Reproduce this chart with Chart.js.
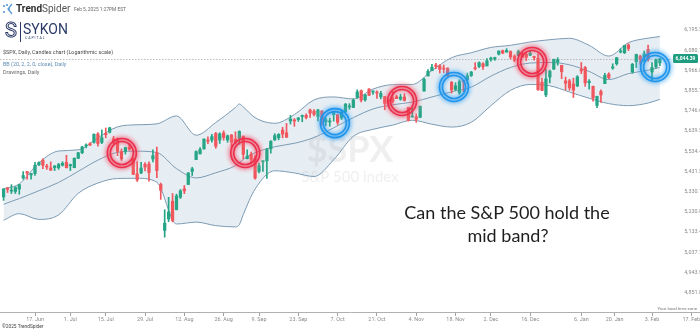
<!DOCTYPE html>
<html>
<head>
<meta charset="utf-8">
<title>$SPX Daily</title>
<script src="https://cdn.jsdelivr.net/npm/chart.js@4.4.1/dist/chart.umd.min.js"></script>
<style>
  html, body { margin: 0; padding: 0; background: #fff; }
  #wrap { width: 700px; height: 331px; }
</style>
</head>
<body>
<div id="wrap"><canvas id="spxChart" width="700" height="331"></canvas></div>
<script>
// S&P 500 daily candles, 5 Jun 2024 .. 5 Feb 2025 (x = trading day index)
const opens = [5314,5357,5343,5341,5353,5409,5441,5424,5431,5476,5499,5467,5459,5461,5460,5473,5488,5471,5461,5508,
  5537,5572,5584,5591,5635,5590,5638,5644,5610,5608,5543,5545,5566,5505,5429,5434,5477,5479,5505,5537,
  5376,5151,5206,5293,5252,5313,5354,5376,5442,5502,5531,5557,5603,5603,5637,5603,5640,5603,5629,5607,
  5612,5623,5507,5529,5507,5442,5490,5496,5557,5603,5615,5655,5641,5703,5709,5711,5727,5733,5762,5755,
  5727,5757,5698,5698,5737,5737,5719,5752,5778,5775,5829,5866,5816,5875,5859,5857,5833,5834,5817,5827,
  5833,5820,5832,5775,5724,5725,5722,5864,5947,5976,6008,6003,5986,5990,5913,5873,5853,5918,5925,5949,
  5992,6000,6015,6003,6040,6042,6069,6089,6081,6084,6058,6061,6074,6068,6063,6053,6047,5913,5843,5941,
  5985,6024,6006,5920,5920,5903,5892,5983,5994,5910,5890,5786,5862,5905,5957,5991,6015,6081,6077,6121,
  5970,6026,6058,6051,6096,5969,5998,6020];
const highs = [5354,5362,5375,5365,5376,5441,5441,5432,5488,5490,5506,5478,5490,5472,5483,5491,5524,5479,5510,5539,
  5570,5583,5590,5635,5642,5656,5666,5670,5622,5614,5557,5566,5585,5508,5491,5488,5487,5490,5552,5566,
  5383,5251,5312,5331,5328,5351,5371,5436,5463,5547,5564,5609,5620,5633,5643,5641,5651,5629,5632,5646,
  5651,5624,5552,5540,5523,5484,5497,5560,5600,5636,5636,5670,5690,5733,5716,5722,5735,5741,5767,5764,
  5765,5757,5719,5718,5753,5739,5757,5797,5796,5822,5871,5870,5846,5878,5866,5866,5863,5835,5817,5862,
  5842,5847,5850,5775,5772,5741,5783,5936,5983,6012,6018,6010,6008,5993,5916,5910,5926,5920,5963,5972,
  6021,6026,6021,6044,6053,6052,6087,6092,6100,6088,6065,6092,6080,6078,6085,6058,6070,5936,5982,5979,
  6041,6049,6007,5941,5929,5935,5949,6022,6000,5927,5891,5836,5871,5961,5965,6015,6051,6100,6119,6128,
  6017,6069,6063,6087,6121,6022,6042,6045];
const lows = [5297,5336,5331,5331,5327,5402,5403,5403,5421,5471,5456,5452,5447,5446,5452,5469,5460,5446,5460,5508,
  5532,5562,5574,5587,5571,5584,5614,5640,5584,5522,5497,5530,5550,5426,5391,5430,5444,5393,5490,5410,
  5302,5119,5193,5192,5250,5306,5330,5376,5421,5502,5531,5555,5584,5592,5560,5585,5602,5591,5561,5583,
  5581,5506,5505,5479,5403,5434,5442,5406,5535,5601,5604,5614,5615,5687,5675,5701,5699,5714,5722,5730,
  5703,5681,5678,5675,5702,5684,5711,5750,5765,5775,5825,5805,5809,5840,5846,5824,5822,5763,5784,5799,
  5823,5814,5810,5703,5723,5696,5722,5864,5947,5976,5987,5963,5966,5944,5853,5866,5846,5861,5905,5944,
  5980,5993,5984,6003,6029,6034,6064,6071,6079,6041,6026,6058,6051,6033,6060,6035,5867,5866,5833,5908,
  5983,6007,5932,5870,5868,5829,5888,5960,5890,5874,5809,5774,5803,5905,5932,5984,6007,6076,6072,6089,
  5962,5994,6012,6027,6030,5923,5990,6004];
const closes = [5354,5352,5347,5361,5375,5421,5433,5431,5473,5487,5473,5464,5448,5469,5477,5483,5460,5475,5509,5537,
  5567,5573,5577,5633,5585,5615,5631,5667,5588,5544,5505,5564,5555,5427,5399,5459,5464,5436,5522,5446,
  5347,5186,5240,5199,5319,5344,5344,5434,5455,5543,5554,5608,5597,5621,5571,5635,5616,5625,5592,5592,
  5648,5529,5520,5503,5408,5471,5496,5554,5596,5626,5633,5634,5618,5714,5703,5719,5732,5722,5745,5738,
  5762,5709,5709,5700,5751,5696,5751,5793,5780,5815,5859,5815,5843,5841,5864,5853,5851,5797,5809,5808,
  5823,5832,5813,5705,5728,5712,5782,5929,5973,5996,6001,5984,5985,5949,5870,5893,5917,5917,5948,5969,
  5987,6021,5999,6032,6047,6050,6087,6075,6090,6053,6034,6084,6051,6051,6074,6050,5872,5867,5931,5974,
  6040,6037,5971,5907,5882,5869,5942,5975,5909,5918,5827,5836,5843,5950,5937,5997,6049,6086,6119,6101,
  6012,6067,6039,6071,6041,5994,6037,6044.39];

// Bollinger band (20, 2) read along the trading day index
const bandIndex  = [0, 4, 9, 14, 19, 24, 29, 34, 39, 44, 49, 54, 59, 60, 61, 64, 69, 74, 79, 84, 89, 94, 99, 104,
  109, 114, 119, 124, 129, 134, 139, 144, 149, 154, 159, 164, 167];
const bandUpper  = [5355, 5379, 5486, 5546, 5552, 5615, 5672, 5683, 5688, 5730, 5628, 5695, 5775, 5794, 5778, 5721,
  5691, 5737, 5816, 5832, 5821, 5875, 5899, 5900, 5977, 6049, 6077, 6107, 6119, 6138, 6151, 6159, 6119, 6058,
  6134, 6160, 6169];
const bandMiddle = [5278, 5306, 5345, 5386, 5442, 5499, 5539, 5545, 5538, 5456, 5409, 5435, 5471, 5486, 5503, 5537,
  5568, 5586, 5616, 5667, 5721, 5767, 5790, 5804, 5832, 5860, 5886, 5946, 5994, 6019, 6022, 6009, 5972, 5927,
  5960, 5979, 5994];
const bandLower  = [5200, 5232, 5204, 5226, 5332, 5383, 5406, 5407, 5387, 5182, 5191, 5174, 5168, 5179, 5228, 5353,
  5445, 5434, 5416, 5501, 5622, 5659, 5681, 5707, 5686, 5671, 5696, 5785, 5868, 5900, 5893, 5859, 5825, 5796,
  5785, 5799, 5819];

const priceTicks = [6195.59, 6080.16, 5966.88, 5855.72, 5746.62, 5639.56, 5534.49, 5431.58, 5330.19,
  5230.88, 5133.43, 5037.79, 4943.93, 4851.82];
const dateTicks  = [8, 17, 26, 36, 46, 56, 65, 75, 85, 95, 105, 115, 124, 134, 147, 155.5, 165, 175];
const dateLabels = ["17. Jun", "1. Jul", "15. Jul", "29. Jul", "12. Aug", "26. Aug", "9. Sep", "23. Sep", "7. Oct",
  "21. Oct", "4. Nov", "18. Nov", "2. Dec", "16. Dec", "6. Jan", "20. Jan", "3. Feb", "17. Feb"];

// drawings: [trading day index, price]
const redMarks  = [[30.1, 5536], [61.5, 5536], [101.4, 5810], [134.5, 6025]];
const blueMarks = [[84.3, 5692], [114.6, 5886], [165.8, 5997]];

const GREEN = "#26a586";
const RED = "#f0565c";
const BAND = "#7c9bb3";
const FONT = "Roboto, 'Open Sans', sans-serif";

const candleColors = opens.map((o, i) => closes[i] >= o ? GREEN : RED);
const wickData = highs.map((h, i) => ({ x: i, y: [lows[i], h] }));
const bodyData = opens.map((o, i) => ({ x: i, y: [o, closes[i]] }));
const toPoints = arr => arr.map((v, k) => ({ x: bandIndex[k], y: v }));

function fmtPrice(v) {
    return v.toLocaleString("en-US", { minimumFractionDigits: 2, maximumFractionDigits: 2 });
}

function drawRing(ctx, cx, cy, color, halo) {
    ctx.save();
    const g = ctx.createRadialGradient(cx, cy, 6, cx, cy, 22);
    g.addColorStop(0, "rgba(255,255,255,0)");
    g.addColorStop(0.45, halo);
    g.addColorStop(1, "rgba(255,255,255,0)");
    ctx.fillStyle = g;
    ctx.beginPath();
    ctx.arc(cx, cy, 22, 0, Math.PI * 2);
    ctx.fill();
    ctx.shadowColor = color;
    ctx.shadowBlur = 5;
    ctx.strokeStyle = color;
    ctx.lineWidth = 1.6;
    ctx.beginPath();
    ctx.arc(cx, cy, 14.5, 0, Math.PI * 2);
    ctx.stroke();
    ctx.beginPath();
    ctx.arc(cx, cy, 11.5, 0, Math.PI * 2);
    ctx.stroke();
    ctx.restore();
}

const overlay = {
    id: "overlay",
    beforeDatasetsDraw(chart) {
        const { ctx, scales: { y } } = chart;
        ctx.save();
        // symbol watermark
        ctx.fillStyle = "rgba(140,140,140,0.14)";
        ctx.textAlign = "center";
        ctx.textBaseline = "middle";
        ctx.font = "bold 36px Lato";
        ctx.fillText("$SPX", 350, 150);
        ctx.font = "15px Lato";
        ctx.fillText("S&P 500 index", 350, 177);
        // last price line
        const py = Math.round(y.getPixelForValue(closes[closes.length - 1])) + 0.5;
        ctx.strokeStyle = "#a9a9a9";
        ctx.lineWidth = 0.8;
        ctx.setLineDash([1.5, 1.5]);
        ctx.beginPath();
        ctx.moveTo(0, py);
        ctx.lineTo(672, py);
        ctx.stroke();
        ctx.restore();
    },
    afterDatasetsDraw(chart) {
        const { ctx, scales: { x, y } } = chart;
        redMarks.forEach(([i, p]) => drawRing(ctx, x.getPixelForValue(i), y.getPixelForValue(p), "#ec2f4b", "rgba(240,70,100,0.32)"));
        blueMarks.forEach(([i, p]) => drawRing(ctx, x.getPixelForValue(i), y.getPixelForValue(p), "#1f95ec", "rgba(50,160,240,0.32)"));
    },
    afterDraw(chart) {
        const { ctx, scales: { y } } = chart;
        ctx.save();
        ctx.textBaseline = "middle";

        // TrendSpider header
        ctx.fillStyle = "#5a9bd8";
        [[4, 6], [4, 12], [9, 9], [7, 5]].forEach(([a, b]) => {
            ctx.beginPath(); ctx.arc(a, b, 1.1, 0, Math.PI * 2); ctx.fill();
        });
        ctx.strokeStyle = "#5a9bd8";
        ctx.lineWidth = 1.3;
        ctx.beginPath();
        ctx.moveTo(12, 4); ctx.lineTo(8, 9); ctx.lineTo(12, 14);
        ctx.stroke();
        ctx.font = "bold 10px " + FONT;
        ctx.fillStyle = "#2e2e2e";
        ctx.fillText("Trend", 16, 9.5);
        const tw = ctx.measureText("Trend").width;
        ctx.font = "10px " + FONT;
        ctx.fillStyle = "#555";
        ctx.fillText("Spider", 16 + tw, 9.5);
        ctx.font = "4.8px " + FONT;
        ctx.fillStyle = "#666";
        ctx.fillText("Feb 5, 2025 1:27PM EST", 74, 9.5);

        // SYKON Capital logo
        ctx.strokeStyle = "#2b3a67";
        ctx.lineWidth = 1;
        ctx.font = "20px " + FONT;
        ctx.strokeText("S", 5, 32);
        ctx.beginPath();
        ctx.moveTo(20.5, 22); ctx.lineTo(20.5, 42);
        ctx.stroke();
        ctx.fillStyle = "#2b3a67";
        ctx.font = "14px " + FONT;
        ctx.fillText("SYKON", 23, 30.5);
        ctx.font = "3.6px " + FONT;
        ctx.fillText("C A P I T A L", 25, 38.5);

        // legend lines
        ctx.font = "5.4px " + FONT;
        ctx.fillStyle = "#4a4a4a";
        ctx.fillText("$SPX, Daily, Candles chart (Logarithmic scale)", 3, 53);
        ctx.fillStyle = "#5f8db5";
        ctx.fillText("BB (20, 2, 2, 0, close), Daily", 3, 64.5);
        ctx.fillStyle = "#6a6a6a";
        ctx.fillText("Drawings, Daily", 3, 72.5);

        // last price tag
        const last = closes[closes.length - 1];
        const py = y.getPixelForValue(last);
        ctx.fillStyle = "#1f9d80";
        ctx.beginPath();
        ctx.roundRect(673, py - 4.5, 25, 9, 1.5);
        ctx.fill();
        ctx.fillStyle = "#fff";
        ctx.font = "bold 5px " + FONT;
        ctx.textAlign = "center";
        ctx.fillText(fmtPrice(last), 685.5, py + 0.3);

        // question
        ctx.fillStyle = "#1e1e1e";
        ctx.font = "18px Lato";
        ctx.fillText("Can the S&P 500 hold the", 507, 213);
        ctx.fillText("mid band?", 508, 236);

        // footer
        ctx.textAlign = "right";
        ctx.font = "4.4px " + FONT;
        ctx.fillStyle = "#777";
        ctx.fillText("Your local time zone", 697, 308.5);
        ctx.textAlign = "left";
        ctx.font = "4.8px " + FONT;
        ctx.fillStyle = "#444";
        ctx.fillText("\u00a92025 TrendSpider", 2, 327);
        ctx.restore();
    }
};

const ctx = document.getElementById("spxChart").getContext("2d");

new Chart(ctx, {
    type: "bar",
    data: {
        datasets: [
            {
                label: "wicks",
                data: wickData,
                backgroundColor: candleColors,
                barThickness: 1,
                grouped: false,
                order: 1
            },
            {
                label: "bodies",
                data: bodyData,
                backgroundColor: candleColors,
                barThickness: 2.6,
                minBarLength: 1,
                grouped: false,
                order: 0
            },
            {
                type: "line",
                label: "upper",
                data: toPoints(bandUpper),
                borderColor: BAND,
                borderWidth: 1,
                pointRadius: 0,
                cubicInterpolationMode: "monotone",
                fill: { target: "+2" },
                backgroundColor: "rgba(196,213,226,0.42)",
                order: 2
            },
            {
                type: "line",
                label: "middle",
                data: toPoints(bandMiddle),
                borderColor: BAND,
                borderWidth: 1,
                pointRadius: 0,
                cubicInterpolationMode: "monotone",
                fill: false,
                order: 2
            },
            {
                type: "line",
                label: "lower",
                data: toPoints(bandLower),
                borderColor: BAND,
                borderWidth: 1,
                pointRadius: 0,
                cubicInterpolationMode: "monotone",
                fill: false,
                order: 2
            }
        ]
    },
    options: {
        responsive: false,
        animation: false,
        events: [],
        layout: { padding: 0, autoPadding: false },
        plugins: {
            legend: { display: false },
            tooltip: { enabled: false },
            filler: { drawTime: "beforeDatasetsDraw" }
        },
        scales: {
            x: {
                type: "linear",
                offset: false,
                min: -0.906,
                max: 177.21,
                afterFit: s => { s.height = 19; s.paddingLeft = 0; s.paddingRight = 0; },
                afterBuildTicks: s => { s.ticks = dateTicks.map(v => ({ value: v })); },
                ticks: {
                    autoSkip: false,
                    maxRotation: 0,
                    padding: 0,
                    color: "#8a8a8a",
                    font: { family: FONT, size: 5.4 },
                    callback: v => {
                        const k = dateTicks.indexOf(v);
                        return k >= 0 ? dateLabels[k] : "";
                    }
                },
                grid: { offset: false, drawOnChartArea: false, drawTicks: true, tickLength: 4, color: "#a0a0a0" },
                border: { display: true, color: "#b0b0b0" }
            },
            y: {
                type: "logarithmic",
                position: "right",
                offset: false,
                min: 4774.6,
                max: 6382.5,
                afterFit: s => { s.width = 0; s.paddingTop = 0; s.paddingBottom = 0; },
                afterBuildTicks: s => { s.ticks = priceTicks.map(v => ({ value: v })); },
                ticks: {
                    mirror: true,
                    crossAlign: "near",
                    padding: 5,
                    labelOffset: -2,
                    autoSkip: false,
                    color: "#8a8a8a",
                    font: { family: FONT, size: 5.4 },
                    callback: v => fmtPrice(v)
                },
                grid: { display: false, drawTicks: false },
                border: { display: false }
            }
        }
    },
    plugins: [overlay]
});
</script>
</body>
</html>
